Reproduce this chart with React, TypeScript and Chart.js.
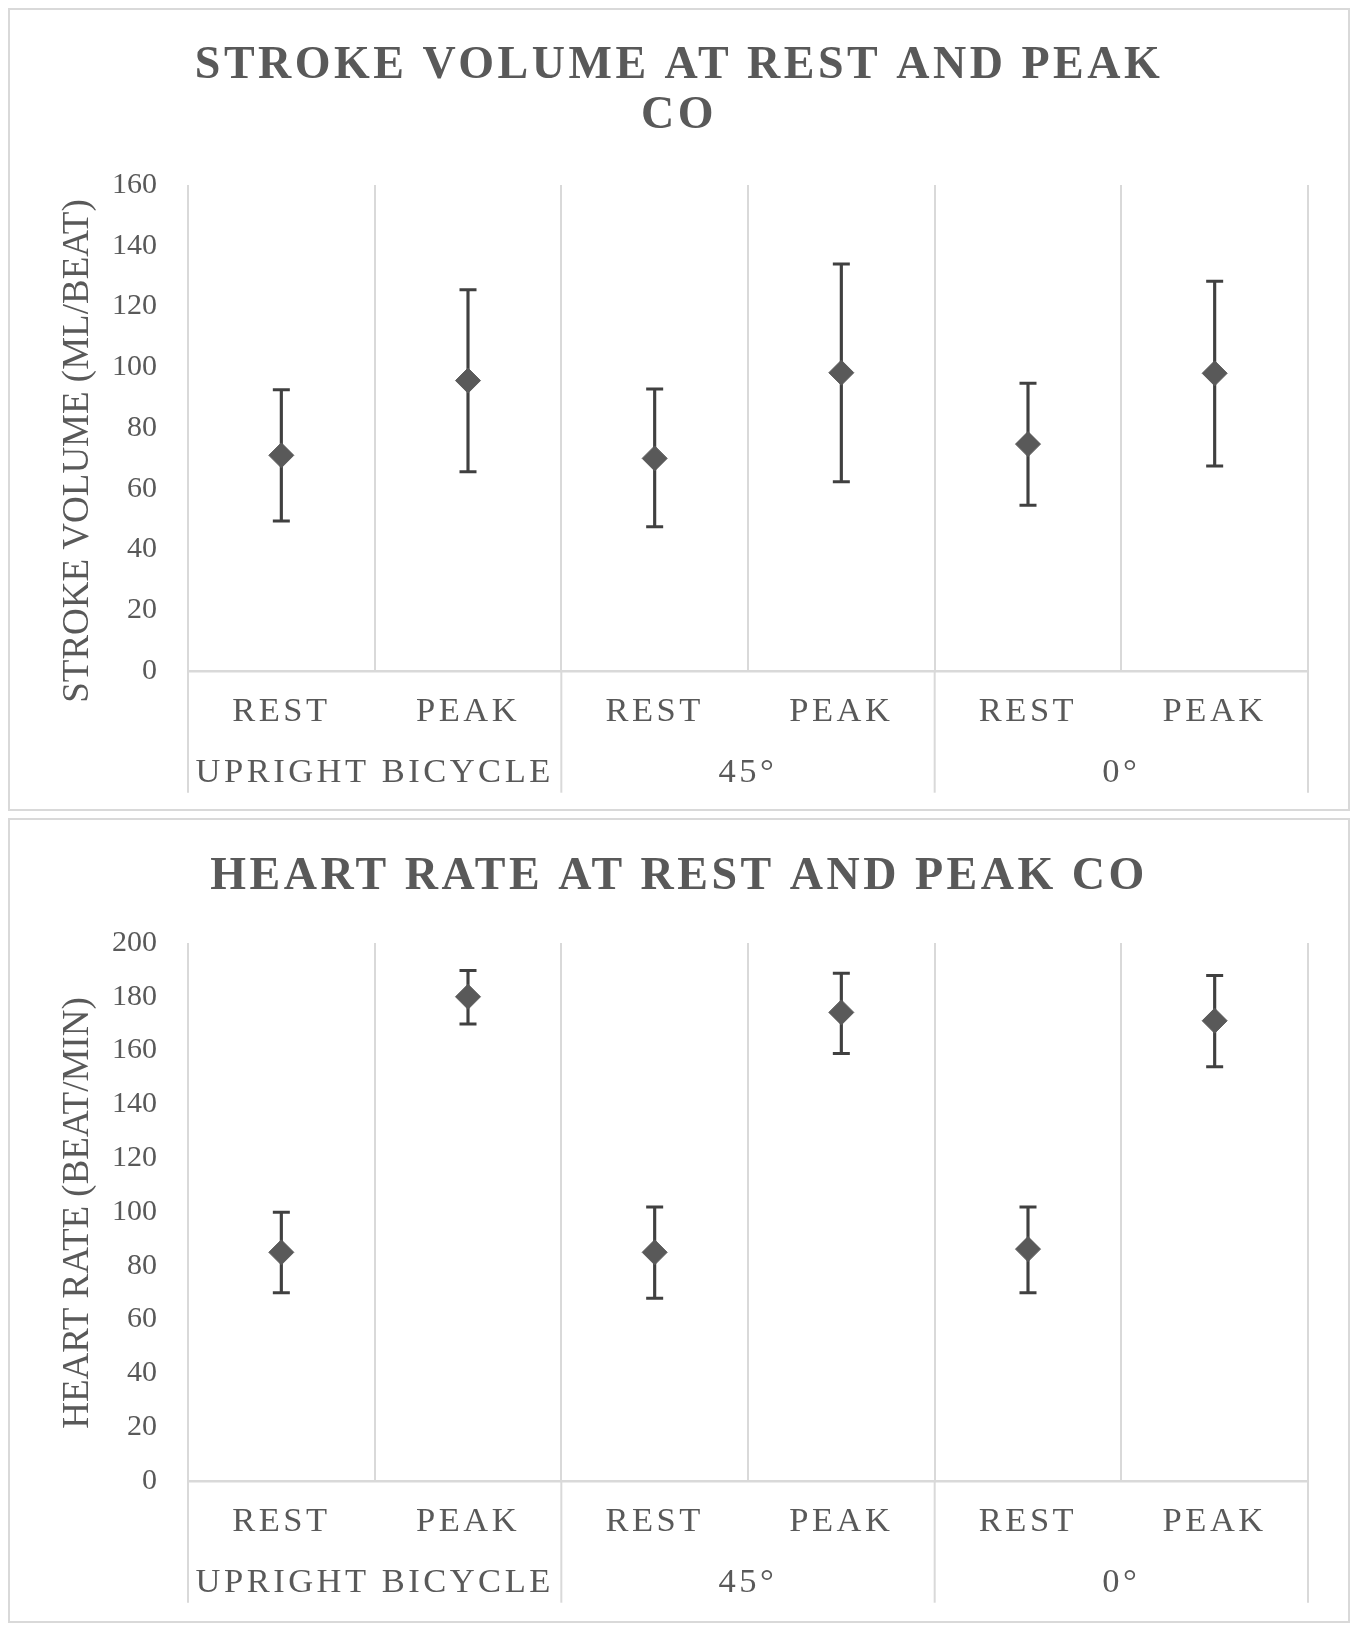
import { useEffect, useRef } from 'react';
import { Chart, registerables } from 'chart.js';

Chart.register(...registerables);

// category labels
const phases = ['REST', 'PEAK', 'REST', 'PEAK', 'REST', 'PEAK'];
const groups = ['UPRIGHT BICYCLE', '45°', '0°'];

// stroke volume (ml/beat): mean with error bar ends
const svMean = [71, 95.6, 70, 98.2, 74.7, 98];
const svHigh = [92.6, 125.5, 92.8, 134, 94.7, 128.3];
const svLow = [49.4, 65.6, 47.5, 62.3, 54.6, 67.5];

// heart rate (beat/min)
const hrMean = [85, 180, 85, 174.2, 86.2, 171.1];
const hrHigh = [99.9, 189.8, 101.9, 188.8, 101.9, 187.9];
const hrLow = [70, 169.9, 67.9, 158.9, 70, 154];

const FONT = "'Liberation Serif', 'Times New Roman', serif";
const TEXT = '#595959';
const GRID = '#d9d9d9';
const MARK = '#595959';
const BAR = '#404040';

// spaced lettering for title and category labels, plain for the value axis (drawn after datasets)
const spacingPlugin = {
  id: 'spacing',
  beforeUpdate(chart: any) {
    chart.ctx.letterSpacing = '0px';
  },
  beforeDraw(chart: any) {
    chart.ctx.letterSpacing = '3.5px';
  },
  afterDatasetsDraw(chart: any) {
    chart.ctx.letterSpacing = '0px';
  },
};

// group separators running down through the category labels
const dividerPlugin = {
  id: 'dividers',
  afterDraw(chart: any) {
    const x = chart.scales.x;
    const x2 = chart.scales.x2;
    const per = phases.length / groups.length;
    const ctx = chart.ctx;
    ctx.save();
    ctx.strokeStyle = GRID;
    ctx.lineWidth = 2;
    for (let k = 0; k <= phases.length; k += per) {
      const px = x.getPixelForValue(k - 0.5);
      ctx.beginPath();
      ctx.moveTo(px, chart.chartArea.bottom);
      ctx.lineTo(px, x2.bottom - 1);
      ctx.stroke();
    }
    ctx.restore();
  },
};

// value axis title (Excel nudges the long one down a bit, so it is drawn here)
const axisTitlePlugin = {
  id: 'axisTitle',
  afterDraw(chart: any, _args: any, opts: any) {
    const { ctx, chartArea } = chart;
    ctx.save();
    ctx.letterSpacing = '0px';
    ctx.fillStyle = TEXT;
    ctx.font = `37px ${FONT}`;
    ctx.textAlign = 'center';
    ctx.textBaseline = 'middle';
    ctx.translate(chart.scales.y.left + 68, (chartArea.top + chartArea.bottom) / 2 + opts.shift);
    ctx.rotate(-Math.PI / 2);
    ctx.fillText(opts.text, 0, 0);
    ctx.restore();
  },
};

type ErrorChartProps = {
  title: string | string[];
  yTitle: string;
  yTitleShift: number;
  mean: number[];
  high: number[];
  low: number[];
  yMax: number;
  titleTop: number;
  titleBottom: number;
  padBottom: number;
};

function ErrorChart({ title, yTitle, yTitleShift, mean, high, low, yMax, titleTop, titleBottom, padBottom }: ErrorChartProps) {
  const chartRef = useRef<HTMLCanvasElement>(null);
  const chartInstance = useRef<Chart | null>(null);

  useEffect(() => {
    if (!chartRef.current) return;
    const ctx = chartRef.current.getContext('2d');
    if (!ctx) return;

    if (chartInstance.current) {
      chartInstance.current.destroy();
    }

    const tickFont = { family: FONT, size: 34.5, lineHeight: 1.2 };
    const capStyle = {
      type: 'line' as const,
      showLine: false,
      pointStyle: 'line',
      pointRadius: 8.5,
      pointBorderColor: BAR,
      pointBorderWidth: 3,
      order: 1,
    };

    chartInstance.current = new Chart(ctx, {
      type: 'bar',
      data: {
        labels: phases,
        datasets: [
          {
            type: 'line',
            data: mean,
            showLine: false,
            pointStyle: 'rectRot',
            pointRadius: 12.5,
            pointBackgroundColor: MARK,
            pointBorderColor: MARK,
            pointBorderWidth: 1,
            order: 0,
          },
          { ...capStyle, data: high },
          { ...capStyle, data: low },
          {
            type: 'bar',
            data: low.map((v, i) => [v, high[i]]),
            backgroundColor: BAR,
            borderWidth: 0,
            barThickness: 2.5,
            order: 2,
          },
        ] as any,
      },
      options: {
        animation: false,
        responsive: true,
        maintainAspectRatio: false,
        events: [],
        layout: { padding: { left: 0, right: 0, top: 0, bottom: padBottom } },
        plugins: {
          legend: { display: false },
          tooltip: { enabled: false },
          title: {
            display: true,
            text: title,
            color: TEXT,
            font: { family: FONT, size: 46, weight: 'bold', lineHeight: 50 / 46 },
            padding: { top: titleTop, bottom: titleBottom },
          },
          axisTitle: { text: yTitle, shift: yTitleShift },
        } as any,
        scales: {
          x: {
            type: 'category',
            labels: phases,
            offset: true,
            weight: 0,
            grid: { offset: true, color: GRID, lineWidth: 2, drawTicks: false },
            border: { color: GRID, width: 2.5 },
            ticks: { color: TEXT, font: tickFont, padding: 20.3, maxRotation: 0, autoSkip: false },
            afterFit: (s: any) => { s.height = 61.7; },
          },
          x2: {
            type: 'category',
            labels: groups,
            position: 'bottom',
            offset: true,
            weight: 1,
            grid: { display: false, drawTicks: false },
            border: { display: false },
            ticks: { color: TEXT, font: tickFont, padding: 19.6, maxRotation: 0, autoSkip: false },
            afterFit: (s: any) => { s.height = 61; },
          },
          y: {
            min: 0,
            max: yMax,
            grid: { display: false, drawTicks: false, z: 1 },
            border: { display: false },
            ticks: { stepSize: 20, color: TEXT, font: { family: FONT, size: 30 }, padding: 31, z: 1 },
            afterFit: (s: any) => { s.width = 178; },
          },
          // empty right-hand spacer so the title centres on the whole frame
          yr: {
            position: 'right',
            grid: { display: false, drawTicks: false },
            border: { display: false },
            ticks: { display: false },
            afterFit: (s: any) => { s.width = 40; },
          },
        } as any,
      },
      plugins: [spacingPlugin, dividerPlugin, axisTitlePlugin],
    });

    return () => {
      if (chartInstance.current) {
        chartInstance.current.destroy();
        chartInstance.current = null;
      }
    };
  }, [title, yTitle, yTitleShift, mean, high, low, yMax, titleTop, titleBottom, padBottom]);

  return (
    <div style={{ position: 'relative', width: '100%', height: '100%' }}>
      <canvas ref={chartRef}></canvas>
    </div>
  );
}

const frameStyle = {
  border: `2px solid ${GRID}`,
  boxSizing: 'border-box' as const,
  background: '#fff',
};

export default function App() {
  return (
    <div style={{ width: 1342 }}>
      <div style={{ ...frameStyle, height: 803 }}>
        <ErrorChart
          title={['STROKE VOLUME AT REST AND PEAK', 'CO']}
          yTitle="STROKE VOLUME (ML/BEAT)"
          yTitleShift={23}
          mean={svMean}
          high={svHigh}
          low={svLow}
          yMax={160}
          titleTop={31}
          titleBottom={44}
          padBottom={15.3}
        />
      </div>
      <div style={{ ...frameStyle, height: 805, marginTop: 7 }}>
        <ErrorChart
          title="HEART RATE AT REST AND PEAK CO"
          yTitle="HEART RATE (BEAT/MIN)"
          yTitleShift={1}
          mean={hrMean}
          high={hrHigh}
          low={hrLow}
          yMax={200}
          titleTop={32.5}
          titleBottom={40.5}
          padBottom={17.3}
        />
      </div>
    </div>
  );
}
